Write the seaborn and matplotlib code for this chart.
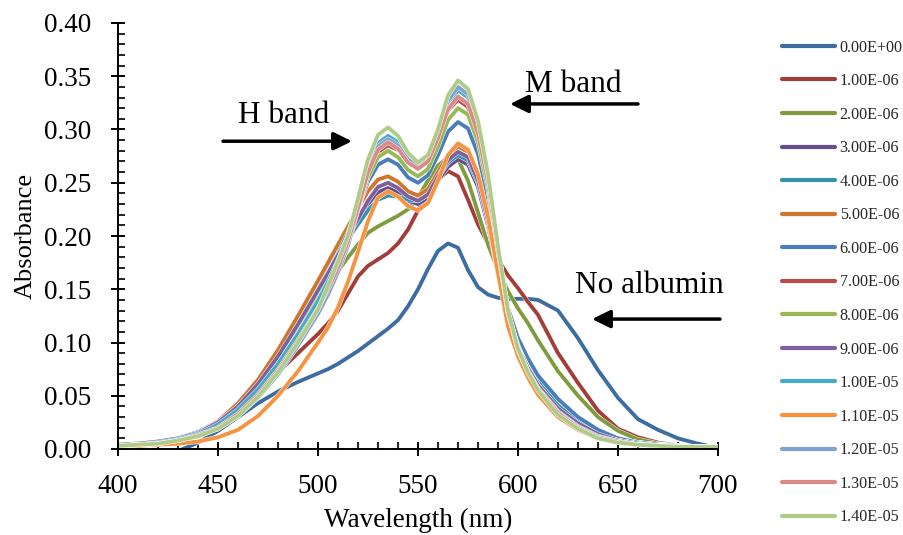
import matplotlib
matplotlib.use('Agg')
import matplotlib.pyplot as plt
import matplotlib.patheffects as pe
from matplotlib.ticker import MultipleLocator, FormatStrFormatter
import pandas as pd
import seaborn as sns

# ---------------- data ----------------
wavelength = [400, 410, 420, 430, 440, 450, 460, 470, 480, 490, 500, 505, 510, 515, 520,
              525, 530, 535, 540, 545, 550, 555, 560, 565, 570, 575, 580, 585, 590, 595,
              600, 605, 610, 620, 630, 640, 650, 660, 670, 680, 690, 700]

conc_labels = ['0.00E+00', '1.00E-06', '2.00E-06', '3.00E-06', '4.00E-06', '5.00E-06',
               '6.00E-06', '7.00E-06', '8.00E-06', '9.00E-06', '1.00E-05', '1.10E-05',
               '1.20E-05', '1.30E-05', '1.40E-05']

abs_0e0 = [-0.004, -0.004, -0.004, -0.002, 0.006, 0.017, 0.030, 0.043, 0.054, 0.063, 0.071, 0.075,
           0.080, 0.086, 0.092, 0.099, 0.106, 0.113, 0.121, 0.134, 0.150, 0.169, 0.186, 0.193,
           0.189, 0.168, 0.152, 0.145, 0.142, 0.141, 0.141, 0.141, 0.140, 0.130, 0.104, 0.074,
           0.048, 0.028, 0.018, 0.010, 0.005, 0.001]
abs_1e6 = [0.003, 0.004, 0.005, 0.008, 0.013, 0.022, 0.036, 0.054, 0.072, 0.090, 0.108, 0.118,
           0.130, 0.146, 0.162, 0.172, 0.178, 0.184, 0.193, 0.206, 0.224, 0.240, 0.253, 0.261,
           0.256, 0.234, 0.211, 0.193, 0.178, 0.163, 0.151, 0.138, 0.126, 0.090, 0.062, 0.036,
           0.019, 0.011, 0.006, 0.003, 0.002, 0.001]
abs_2e6 = [0.003, 0.004, 0.006, 0.009, 0.015, 0.026, 0.042, 0.062, 0.085, 0.110, 0.137, 0.152,
           0.167, 0.180, 0.192, 0.203, 0.209, 0.214, 0.219, 0.225, 0.236, 0.252, 0.266, 0.274,
           0.272, 0.252, 0.222, 0.192, 0.168, 0.148, 0.132, 0.118, 0.102, 0.073, 0.050, 0.030,
           0.017, 0.009, 0.005, 0.003, 0.002, 0.001]
abs_3e6 = [0.004, 0.005, 0.007, 0.010, 0.016, 0.026, 0.042, 0.064, 0.091, 0.122, 0.154, 0.170,
           0.186, 0.201, 0.216, 0.230, 0.241, 0.245, 0.241, 0.233, 0.230, 0.236, 0.252, 0.265,
           0.272, 0.267, 0.246, 0.210, 0.164, 0.124, 0.098, 0.079, 0.063, 0.040, 0.025, 0.015,
           0.009, 0.006, 0.004, 0.003, 0.002, 0.002]
abs_4e6 = [0.004, 0.005, 0.007, 0.010, 0.016, 0.025, 0.041, 0.062, 0.088, 0.118, 0.150, 0.166,
           0.182, 0.197, 0.211, 0.224, 0.234, 0.238, 0.237, 0.234, 0.233, 0.239, 0.255, 0.269,
           0.276, 0.271, 0.250, 0.214, 0.167, 0.126, 0.099, 0.080, 0.064, 0.041, 0.026, 0.016,
           0.010, 0.006, 0.004, 0.003, 0.002, 0.002]
abs_5e6 = [0.004, 0.005, 0.007, 0.010, 0.016, 0.026, 0.043, 0.065, 0.093, 0.125, 0.158, 0.175,
           0.192, 0.209, 0.226, 0.242, 0.253, 0.256, 0.251, 0.242, 0.238, 0.244, 0.260, 0.276,
           0.284, 0.279, 0.257, 0.218, 0.168, 0.122, 0.093, 0.073, 0.057, 0.035, 0.022, 0.013,
           0.008, 0.005, 0.004, 0.003, 0.002, 0.002]
abs_6e6 = [0.004, 0.005, 0.007, 0.010, 0.016, 0.025, 0.040, 0.060, 0.086, 0.115, 0.147, 0.164,
           0.183, 0.203, 0.226, 0.251, 0.267, 0.272, 0.267, 0.255, 0.250, 0.257, 0.276, 0.298,
           0.307, 0.301, 0.277, 0.236, 0.180, 0.132, 0.104, 0.085, 0.069, 0.047, 0.030, 0.018,
           0.010, 0.006, 0.004, 0.003, 0.002, 0.002]
abs_7e6 = [0.003, 0.004, 0.006, 0.009, 0.015, 0.023, 0.037, 0.056, 0.080, 0.108, 0.138, 0.155,
           0.174, 0.196, 0.225, 0.258, 0.279, 0.285, 0.281, 0.272, 0.268, 0.275, 0.295, 0.318,
           0.328, 0.321, 0.293, 0.247, 0.184, 0.127, 0.097, 0.076, 0.060, 0.037, 0.023, 0.013,
           0.008, 0.005, 0.003, 0.003, 0.002, 0.002]
abs_8e6 = [0.003, 0.004, 0.006, 0.009, 0.015, 0.024, 0.038, 0.058, 0.083, 0.111, 0.142, 0.159,
           0.178, 0.199, 0.225, 0.255, 0.274, 0.280, 0.274, 0.262, 0.256, 0.263, 0.284, 0.309,
           0.320, 0.314, 0.288, 0.244, 0.182, 0.127, 0.096, 0.076, 0.060, 0.037, 0.023, 0.013,
           0.008, 0.005, 0.003, 0.003, 0.002, 0.002]
abs_9e6 = [0.004, 0.005, 0.007, 0.010, 0.015, 0.025, 0.040, 0.061, 0.087, 0.117, 0.149, 0.165,
           0.182, 0.199, 0.216, 0.233, 0.246, 0.250, 0.245, 0.237, 0.233, 0.239, 0.256, 0.271,
           0.279, 0.274, 0.252, 0.214, 0.166, 0.122, 0.095, 0.076, 0.060, 0.038, 0.024, 0.014,
           0.008, 0.005, 0.003, 0.003, 0.002, 0.002]
abs_1e5 = [0.003, 0.004, 0.006, 0.009, 0.014, 0.023, 0.037, 0.056, 0.080, 0.108, 0.139, 0.157,
           0.177, 0.201, 0.232, 0.266, 0.287, 0.294, 0.288, 0.272, 0.264, 0.271, 0.294, 0.324,
           0.337, 0.330, 0.300, 0.252, 0.187, 0.128, 0.094, 0.073, 0.057, 0.035, 0.021, 0.012,
           0.007, 0.004, 0.003, 0.002, 0.002, 0.002]
abs_11e6 = [0.002, 0.003, 0.004, 0.005, 0.007, 0.011, 0.018, 0.031, 0.050, 0.073, 0.100, 0.114,
            0.133, 0.157, 0.185, 0.214, 0.236, 0.242, 0.237, 0.228, 0.224, 0.231, 0.252, 0.276,
            0.287, 0.281, 0.258, 0.218, 0.165, 0.115, 0.087, 0.067, 0.051, 0.030, 0.018, 0.010,
            0.006, 0.004, 0.003, 0.002, 0.002, 0.001]
abs_12e6 = [0.003, 0.004, 0.005, 0.008, 0.012, 0.019, 0.031, 0.048, 0.070, 0.097, 0.127, 0.145,
            0.166, 0.191, 0.225, 0.261, 0.284, 0.291, 0.285, 0.272, 0.266, 0.273, 0.296, 0.327,
            0.340, 0.333, 0.303, 0.254, 0.188, 0.129, 0.094, 0.073, 0.056, 0.034, 0.020, 0.011,
            0.007, 0.004, 0.003, 0.002, 0.002, 0.002]
abs_13e6 = [0.003, 0.004, 0.005, 0.008, 0.013, 0.020, 0.033, 0.051, 0.074, 0.102, 0.132, 0.150,
            0.170, 0.195, 0.226, 0.260, 0.281, 0.288, 0.282, 0.269, 0.263, 0.270, 0.292, 0.319,
            0.331, 0.324, 0.296, 0.250, 0.186, 0.128, 0.093, 0.072, 0.056, 0.034, 0.020, 0.011,
            0.007, 0.004, 0.003, 0.002, 0.002, 0.002]
abs_14e6 = [0.003, 0.004, 0.005, 0.008, 0.012, 0.019, 0.031, 0.049, 0.072, 0.100, 0.131, 0.153,
            0.176, 0.200, 0.235, 0.272, 0.295, 0.302, 0.294, 0.278, 0.269, 0.276, 0.300, 0.332,
            0.346, 0.338, 0.308, 0.258, 0.190, 0.130, 0.094, 0.072, 0.055, 0.032, 0.019, 0.010,
            0.006, 0.004, 0.003, 0.002, 0.002, 0.002]

series = [abs_0e0, abs_1e6, abs_2e6, abs_3e6, abs_4e6, abs_5e6, abs_6e6, abs_7e6, abs_8e6,
          abs_9e6, abs_1e5, abs_11e6, abs_12e6, abs_13e6, abs_14e6]

colors = ['#3D6CA3', '#A23D3A', '#7E9C3E', '#654E89', '#3591A8', '#D0752D', '#4A7EBB',
          '#BE4B48', '#98B954', '#7D60A0', '#46AAC5', '#F69240', '#7FA1D3', '#DA8A88',
          '#AECB87']

# ---------------- style ----------------
sns.set_style('ticks')
plt.rcParams['font.family'] = ['Liberation Serif', 'DejaVu Serif']

rows = []
for lab, vals in zip(conc_labels, series):
    for w, a in zip(wavelength, vals):
        rows.append((w, a, lab))
df = pd.DataFrame(rows, columns=['Wavelength', 'Absorbance', 'Concentration'])

fig = plt.figure(figsize=(9.04, 5.35), dpi=100)
ax = fig.add_axes([118 / 904, 1 - 449 / 535, 600 / 904, 426 / 535])

sns.lineplot(data=df, x='Wavelength', y='Absorbance', hue='Concentration',
             hue_order=conc_labels, palette=colors, linewidth=2.75, estimator=None,
             sort=False, ax=ax)

for ln in ax.lines:
    ln.set_path_effects([pe.Stroke(linewidth=3.4, foreground='white'), pe.Normal()])
    ln.set_solid_capstyle('round')
    ln.set_solid_joinstyle('round')

ax.set_xlim(400, 700)
ax.set_ylim(0, 0.40)
ax.xaxis.set_major_locator(MultipleLocator(50))
ax.xaxis.set_minor_locator(MultipleLocator(10))
ax.yaxis.set_major_locator(MultipleLocator(0.05))
ax.yaxis.set_minor_locator(MultipleLocator(0.01))
ax.yaxis.set_major_formatter(FormatStrFormatter('%.2f'))

for s in ['top', 'right']:
    ax.spines[s].set_visible(False)
for s in ['left', 'bottom']:
    ax.spines[s].set_linewidth(1.4)
    ax.spines[s].set_color('black')

ax.tick_params(which='major', direction='inout', length=10.5, width=1.4, color='black',
               labelsize=19.5, labelcolor='black')
ax.tick_params(axis='y', which='major', pad=14)
ax.tick_params(axis='x', which='major', pad=13)
ax.tick_params(which='minor', direction='in', length=5, width=1.2, color='black')

ax.set_xlabel('Wavelength (nm)', fontsize=19.5, color='black')
ax.set_ylabel('Absorbance', fontsize=19, color='black')
ax.xaxis.set_label_coords(0.5, -0.137)
ax.yaxis.set_label_coords(-0.136, 0.5)

# legend
handles, labels = ax.get_legend_handles_labels()
if ax.get_legend() is not None:
    ax.get_legend().remove()
leg = fig.legend(handles, labels, loc='upper left', bbox_to_anchor=(782 / 904, 1 - 39.5 / 535),
                 frameon=False, fontsize=11.6, handlelength=3.28, handletextpad=0.3,
                 labelspacing=1.09, borderpad=0, borderaxespad=0)
for h in leg.get_lines():
    h.set_linewidth(3.0)
    h.set_path_effects([])

# annotations
arrow_kw = dict(arrowstyle='-|>,head_length=0.55,head_width=0.27', color='black', lw=2.5,
                mutation_scale=20, shrinkA=0, shrinkB=0)
ax.annotate('', xy=(517, 0.289), xytext=(452.5, 0.289), arrowprops=arrow_kw,
            annotation_clip=False)
ax.annotate('', xy=(596, 0.324), xytext=(660, 0.324), arrowprops=arrow_kw,
            annotation_clip=False)
ax.annotate('', xy=(637, 0.122), xytext=(701, 0.122), arrowprops=arrow_kw,
            annotation_clip=False)
ax.text(460, 0.3058, 'H band', ha='left', va='baseline', fontsize=22.5, color='black')
ax.text(603.5, 0.3355, 'M band', ha='left', va='baseline', fontsize=22.5, color='black')
ax.text(628.5, 0.1462, 'No albumin', ha='left', va='baseline', fontsize=22.5, color='black',
        clip_on=False)

fig.savefig('out.png', dpi=100)
